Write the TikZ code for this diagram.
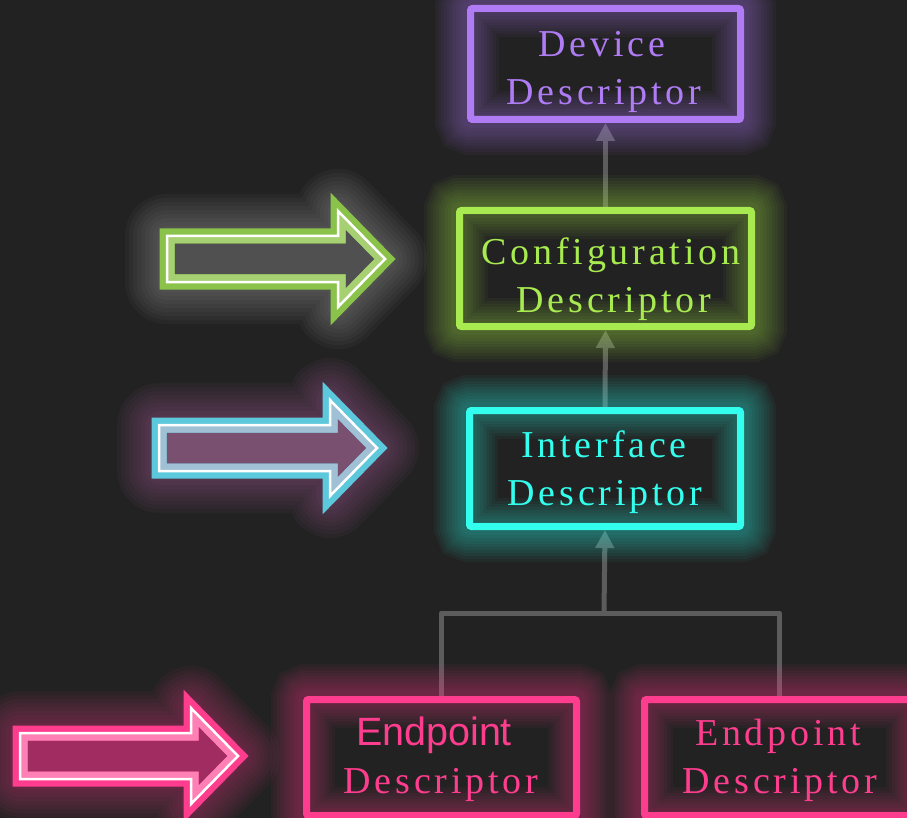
\documentclass[tikz,border=0pt]{standalone}
\usepackage{fontspec}
\setmainfont{Liberation Serif}
\newfontfamily\spaced[LetterSpace=10]{Liberation Serif}
\newfontfamily\arialish{Liberation Sans}
\usetikzlibrary{arrows.meta}
\definecolor{bg}{HTML}{222222}
\definecolor{devc}{HTML}{B07CF5}
\definecolor{cfgc}{HTML}{A8EB50}
\definecolor{ifcc}{HTML}{33FFEE}
\definecolor{epc}{HTML}{FF3D8E}
\definecolor{connc}{HTML}{5C5C5C}
\definecolor{gOut}{HTML}{8BC34A}
\definecolor{gIn}{HTML}{A6D072}
\definecolor{gFill}{HTML}{505050}
\definecolor{gGlow}{HTML}{A8A8A8}
\definecolor{cOut}{HTML}{5CC8DC}
\definecolor{cIn}{HTML}{A0C0D6}
\definecolor{cFill}{HTML}{7A5070}
\definecolor{cGlow}{HTML}{B060A0}
\definecolor{pOut}{HTML}{FF3D8E}
\definecolor{pIn}{HTML}{FF80B4}
\definecolor{pFill}{HTML}{A02C62}
\definecolor{pGlow}{HTML}{E03A82}
\pgfdeclarelayer{bgl}
\pgfdeclarelayer{connl}
\pgfdeclarelayer{glowl}
\pgfsetlayers{bgl,connl,glowl,main}
\newcommand\apath[1]{\path[#1] (-218,-23) -- (-47,-23) -- (-47,-48) -- (0,0) -- (-47,48) -- (-47,23) -- (-218,23) -- cycle;}
\newcommand\myarrow[6]{%
\begin{scope}[shift={(#1,#2)}]
 \foreach \w in {84,76,...,16}{\apath{draw=#6, line width=\w, opacity=0.05, line join=round}}
 \apath{fill=#5}
 \apath{draw=#3, line width=15, line join=miter}
 \begin{scope}\apath{clip}\apath{draw=#4, line width=15, line join=miter}\end{scope}
 \apath{draw=white, line width=2.5, line join=miter}
\end{scope}}
\newcommand\glowbox[2]{%
 \foreach \w in {64,58,...,10}{\draw[#2, line width=\w, opacity=0.042, rounded corners=4] (#1.north west) rectangle (#1.south east);}}
\tikzset{
 x=1pt, y=-1pt,
 box/.style={draw, line width=7, rounded corners=2, inner sep=0, fill=none},
 lbl/.style={anchor=base, inner sep=0, font=\spaced\fontsize{38}{46}\selectfont},
 slbl/.style={anchor=base, inner sep=0, font=\arialish\fontsize{39.5}{46}\selectfont},
 conn/.style={draw=connc, line width=5, line join=round, -{Triangle[width=18pt,length=18pt]}},
 connp/.style={draw=connc, line width=5, line join=round},
}
\begin{document}
\begin{tikzpicture}
\begin{pgfonlayer}{bgl}
\fill[bg] (0,0) rectangle (907,818);
\end{pgfonlayer}
\useasboundingbox (0,0) rectangle (907,818);

% boxes
\node[box, draw=devc, minimum width=270, minimum height=111] (dev) at (605.5,64) {};
\node[box, draw=cfgc, minimum width=292, minimum height=116] (cfg) at (605.5,268.5) {};
\node[box, draw=ifcc, minimum width=271, minimum height=116] (ifc) at (605,468.5) {};
\node[box, draw=epc, minimum width=270, minimum height=116] (ep1) at (441.5,757.5) {};
\node[box, draw=epc, minimum width=270, minimum height=116] (ep2) at (779.5,757.5) {};

\begin{pgfonlayer}{glowl}
\glowbox{dev}{devc}
\glowbox{cfg}{cfgc}
\glowbox{ifc}{ifcc}
\glowbox{ep1}{epc}
\glowbox{ep2}{epc}
\end{pgfonlayer}

% connectors
\coordinate (j) at (604,613);
\begin{pgfonlayer}{connl}
\draw[conn] (cfg.north) -- (dev.south);
\draw[conn] (ifc.north) -- (cfg.south);
\draw[connp] (ep1.north) |- (j) -| (ep2.north);
\draw[conn] (j) -- (ifc.south);
\end{pgfonlayer}

% texts
\node[lbl, text=devc] (t1) at (602,57) {Device};
\node[lbl, text=devc] (t2) at (604,105) {Descriptor};
\node[lbl, text=cfgc] (t3) at (611,265) {Configuration};
\node[lbl, text=cfgc] (t4) at (614,312) {Descriptor};
\node[lbl, text=ifcc] (t5) at (604,457) {Interface};
\node[lbl, text=ifcc] (t6) at (605,505) {Descriptor};
\node[slbl, text=epc] (t7) at (434,745) {Endpoint};
\node[lbl, text=epc] (t8) at (441,793) {Descriptor};
\node[lbl, text=epc] (t9) at (778,745) {Endpoint};
\node[lbl, text=epc] (t10) at (780,793) {Descriptor};

% block arrows
\myarrow{385}{259}{gOut}{gIn}{gFill}{gGlow}
\myarrow{377}{448}{cOut}{cIn}{cFill}{cGlow}
\myarrow{238}{756}{pOut}{pIn}{pFill}{pGlow}
\end{tikzpicture}
\end{document}
